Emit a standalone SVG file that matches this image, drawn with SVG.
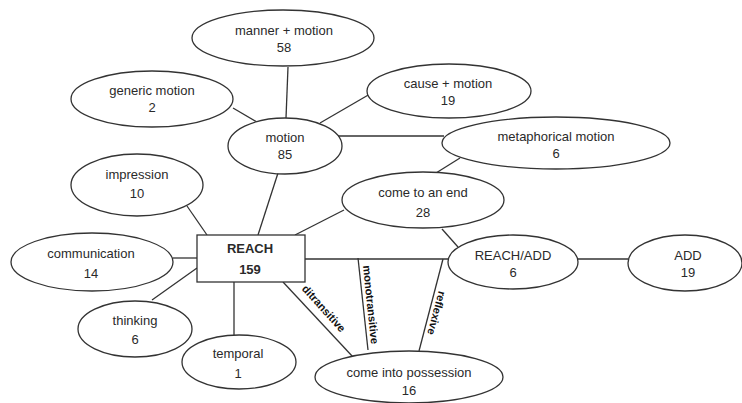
<svg xmlns="http://www.w3.org/2000/svg" width="742" height="403" viewBox="0 0 742 403">
<style>
.n{fill:#fff;stroke:#333;stroke-width:1.3}
.c line{stroke:#333;stroke-width:1.3}
text{font-family:"Liberation Sans",Arial,sans-serif;font-size:13px;fill:#2a2a2a;text-anchor:middle}
.b{font-weight:bold}
.e{font-size:11px;font-weight:bold;fill:#111;text-anchor:middle}
</style>
<rect width="742" height="403" fill="#fff"/>
<g id="connectors" class="c">
<line x1="288" y1="67" x2="286" y2="118"/>
<line x1="233" y1="108" x2="257" y2="122"/>
<line x1="320" y1="123" x2="370" y2="94"/>
<line x1="338" y1="136" x2="444" y2="136"/>
<line x1="278" y1="173" x2="258" y2="235"/>
<line x1="187" y1="206" x2="207" y2="235"/>
<line x1="295" y1="235" x2="344" y2="210"/>
<line x1="460" y1="158" x2="436" y2="173"/>
<line x1="442" y1="229" x2="458" y2="247"/>
<line x1="305" y1="259" x2="449" y2="259"/>
<line x1="578" y1="259" x2="628" y2="259"/>
<line x1="173" y1="258" x2="197" y2="258"/>
<line x1="152" y1="300" x2="197" y2="268"/>
<line x1="234" y1="282" x2="234" y2="335"/>
<line x1="283" y1="282" x2="353" y2="357"/>
<line x1="358" y1="258" x2="368" y2="350"/>
<line x1="443" y1="259" x2="419" y2="351"/>
<text class="e" transform="translate(321,311) rotate(48)">ditransitive</text>
<text class="e" transform="translate(367,305) rotate(84)">monotransitive</text>
<text class="e" transform="translate(433,312) rotate(105)">reflexive</text>
</g>
<g id="manner-motion"><ellipse class="n" cx="283" cy="38" rx="91" ry="28"/><text x="284" y="35">manner + motion</text><text x="284" y="52">58</text></g>
<g id="generic-motion"><ellipse class="n" cx="152" cy="99" rx="81" ry="28"/><text x="152" y="95">generic motion</text><text x="152" y="112">2</text></g>
<g id="motion"><ellipse class="n" cx="285" cy="146" rx="57" ry="28"/><text x="285" y="142">motion</text><text x="285" y="159">85</text></g>
<g id="impression"><ellipse class="n" cx="137" cy="185" rx="66" ry="31"/><text x="137" y="179">impression</text><text x="137" y="198">10</text></g>
<g id="cause-motion"><ellipse class="n" cx="449" cy="91" rx="82" ry="27"/><text x="448" y="88">cause + motion</text><text x="448" y="105">19</text></g>
<g id="metaphorical-motion"><ellipse class="n" cx="556" cy="143" rx="114" ry="26"/><text x="556" y="141">metaphorical motion</text><text x="556" y="158">6</text></g>
<g id="come-to-an-end"><ellipse class="n" cx="423" cy="200" rx="81" ry="28"/><text x="423" y="197">come to an end</text><text x="423" y="217">28</text></g>
<g id="reach"><rect class="n" x="197" y="235" width="108" height="47"/><text class="b" x="250" y="253">REACH</text><text class="b" x="250" y="274">159</text></g>
<g id="communication"><ellipse class="n" cx="92" cy="262" rx="81" ry="29"/><text x="91" y="258">communication</text><text x="91" y="278">14</text></g>
<g id="thinking"><ellipse class="n" cx="135" cy="329" rx="57" ry="28"/><text x="135" y="325">thinking</text><text x="135" y="344">6</text></g>
<g id="temporal"><ellipse class="n" cx="239" cy="362" rx="57" ry="27"/><text x="238" y="358">temporal</text><text x="238" y="378">1</text></g>
<g id="come-into-possession"><ellipse class="n" cx="409" cy="377" rx="94" ry="26"/><text x="409" y="377">come into possession</text><text x="409" y="395">16</text></g>
<g id="reach-add"><ellipse class="n" cx="513" cy="262" rx="65" ry="27"/><text x="513" y="260">REACH/ADD</text><text x="513" y="277">6</text></g>
<g id="add"><ellipse class="n" cx="685" cy="263" rx="57" ry="28"/><text x="688" y="260">ADD</text><text x="688" y="277">19</text></g>
</svg>
